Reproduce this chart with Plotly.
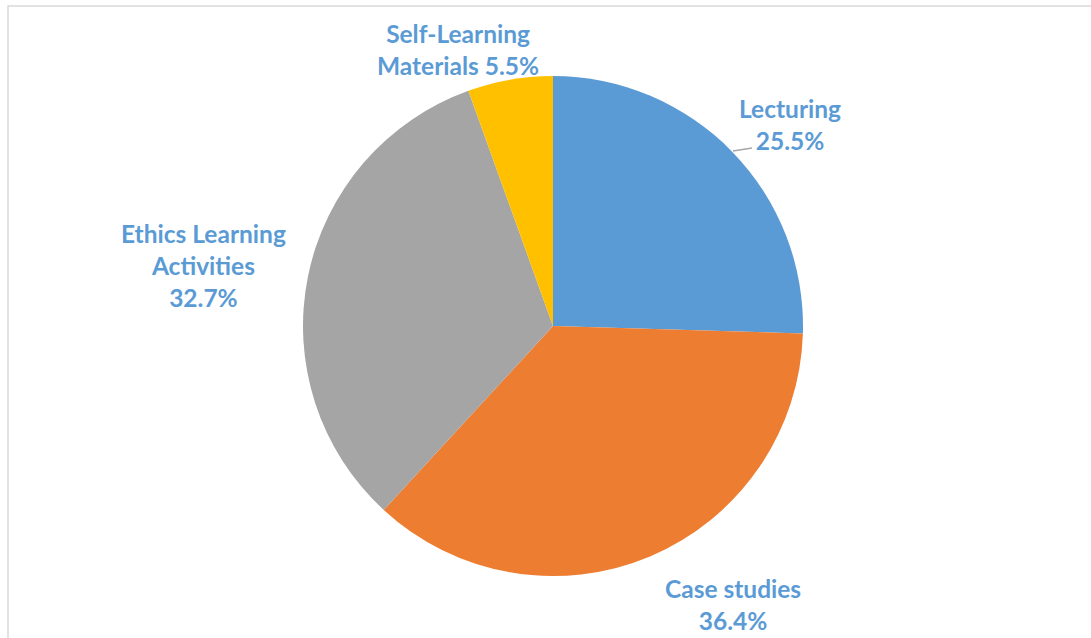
import plotly.graph_objects as go

# ---- data ----
categories = ["Lecturing", "Case studies", "Ethics Learning Activities", "Self-Learning Materials"]
values = [25.5, 36.4, 32.7, 5.5]
label_text = ["Lecturing<br>25.5%", "Case studies<br>36.4%",
              "Ethics Learning<br>Activities<br>32.7%", "Self-Learning<br>Materials 5.5%"]
colors = ["#5B9BD5", "#ED7D31", "#A5A5A5", "#FFC000"]

W, H = 1091, 638
# label centre positions in pixels (layout)
label_px = [(790, 125), (733, 604), (203, 265), (458, 50)]

def px(x, y):
    return x / W, 1 - y / H

fig = go.Figure(go.Pie(
    labels=categories, values=values,
    sort=False, direction="clockwise", rotation=0,
    marker=dict(colors=colors, line=dict(width=0)),
    textinfo="none", hoverinfo="label+value",
    domain=dict(x=[303 / W, 803 / W], y=[62 / H, 562 / H]),
    showlegend=False,
))

for (x, y), t in zip(label_px, label_text):
    ax, ay = px(x, y)
    fig.add_annotation(x=ax, y=ay, xref="paper", yref="paper", text=t,
                       showarrow=False, xanchor="center", yanchor="middle",
                       font=dict(family="Lato", size=24.5, color="#5B9BD5", weight="bold"))

# leader line for Lecturing
x0, y0 = px(733, 151)
x1, y1 = px(752, 148)
fig.add_shape(type="line", xref="paper", yref="paper", x0=x0, y0=y0, x1=x1, y1=y1,
              line=dict(color="#A6A6A6", width=1.5))

# chart border
bx0, by0 = px(8, 6)
fig.add_shape(type="rect", xref="paper", yref="paper", x0=bx0, y0=-0.05, x1=1.05, y1=by0,
              line=dict(color="#D9D9D9", width=1.5))

fig.update_layout(width=W, height=H, margin=dict(l=0, r=0, t=0, b=0),
                  paper_bgcolor="white", plot_bgcolor="white")
fig.write_html("out.html")
